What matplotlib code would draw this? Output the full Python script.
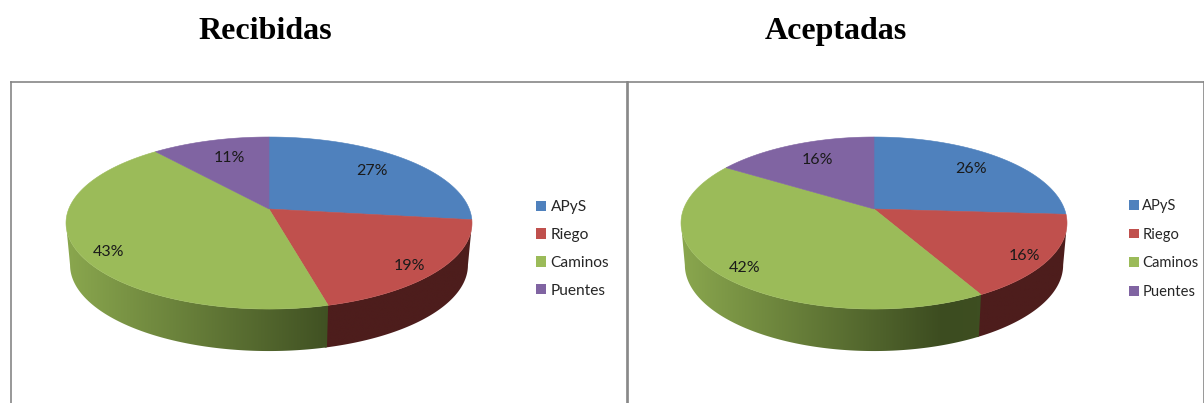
import numpy as np
import matplotlib
matplotlib.use('Agg')
import matplotlib.pyplot as plt
from matplotlib.colors import to_rgb
from matplotlib.patches import Patch, Polygon

W, H = 1204, 403

# data
categories = ['APyS', 'Riego', 'Caminos', 'Puentes']
recibidas = [27, 19, 43, 11]
aceptadas = [26, 16, 42, 16]

colors = ['#4f81bd', '#c0504d', '#9bbb59', '#8064a2']
# rim colours at the left edge and at the darkest point
rim_light = ['#3e6590', '#4d1d1c', '#8aa74e', '#5f4a7c']
rim_dark = ['#264060', '#4d1d1c', '#3c4c20', '#3c2e50']

PERSP = 0.163   # perspective of the tilted disc
FAR_Y = 72      # pivot to back edge, pixels
PIVOT_Y = 209
DEPTH = 42


def project(u, v, cx, rx, shrink=1.0, drop=0):
    # disc coordinates -> picture pixels, back of the disc is squeezed
    b = rx * np.sqrt(1 - PERSP ** 2)
    a = FAR_Y * (1 + PERSP)
    den = 1 + PERSP * v
    x = cx + shrink * b * u / den
    y = PIVOT_Y + drop - a * v / den
    return x, y


def rim_gradient(i):
    # lighter on the left, darkest about two thirds across
    t = np.linspace(0, 1, 400)
    k = np.where(t < 0.68, t / 0.68, 1 - 0.25 * (t - 0.68))
    c0, c1 = np.array(to_rgb(rim_light[i])), np.array(to_rgb(rim_dark[i]))
    return (c0 + (c1 - c0) * k[:, None])[None, :, :]


def draw_pie(ax, values, cx, rx, labels_xy):
    edges = np.cumsum([0] + list(values)) / sum(values) * 2 * np.pi

    # only the front of the rim shows, between the two silhouette angles
    vis0 = np.arccos(-PERSP)
    vis1 = 2 * np.pi - vis0
    for i in range(len(values)):
        start = max(edges[i], vis0)
        stop = min(edges[i + 1] + 0.01, vis1)
        if stop <= start:
            continue
        th = np.linspace(start, stop, 120)
        x0, y0 = project(np.sin(th), np.cos(th), cx, rx)
        x1, y1 = project(np.sin(th), np.cos(th), cx, rx, 0.98, DEPTH)
        pts = np.c_[np.r_[x0, x1[::-1]], np.r_[y0, y1[::-1]]]
        clip = Polygon(pts, closed=True, transform=ax.transData)
        im = ax.imshow(rim_gradient(i), aspect='auto', interpolation='bilinear',
                       extent=(cx - rx, cx + rx, PIVOT_Y + 160, PIVOT_Y - 90))
        im.set_clip_path(clip)

    # top of the cake
    for i in range(len(values)):
        th = np.linspace(edges[i], edges[i + 1], 120)
        x, y = project(np.sin(th), np.cos(th), cx, rx)
        px, py = project(0.0, 0.0, cx, rx)
        ax.fill(np.r_[px, x], np.r_[py, y], color=colors[i], lw=0.4)

    for v, (lx, ly) in zip(values, labels_xy):
        ax.text(lx, ly, f'{v}%', ha='center', va='center', fontsize=11.5,
                family='Lato', color='#1a1a1a')


def draw_legend(ax, x, y, size, gap):
    handles = [Patch(facecolor=c, edgecolor='none') for c in colors]
    leg = ax.legend(handles, categories, loc='center left', frameon=False,
                    bbox_to_anchor=(x, y), bbox_transform=ax.transData,
                    prop={'family': 'Lato', 'size': size}, labelcolor='#262626',
                    handlelength=0.65, handleheight=0.65, handletextpad=gap,
                    labelspacing=28 / (size * 100 / 72) - 0.915, borderpad=0, borderaxespad=0)
    return leg


fig = plt.figure(figsize=(W / 100, H / 100), dpi=100)

ax1 = fig.add_axes([11 / W, 0, 616 / W, (H - 82) / H])
ax2 = fig.add_axes([628 / W, 0, 576 / W, (H - 82) / H])
for ax, xlim in ((ax1, (11, 627)), (ax2, (628, W))):
    ax.set_xlim(xlim)
    ax.set_ylim(H, 82)
    ax.set_autoscale_on(False)
    ax.set_xticks([])
    ax.set_yticks([])
    ax.spines['bottom'].set_visible(False)
    for s in ('left', 'top', 'right'):
        ax.spines[s].set_color('#868686')
        ax.spines[s].set_linewidth(1.2)

draw_pie(ax1, recibidas, 269, 203,
         [(372, 171), (409, 266), (109, 252), (229, 158)])
draw_pie(ax2, aceptadas, 874, 193,
         [(971.5, 169), (1024, 255.5), (745, 268), (817.5, 160)])
for ax, xlim in ((ax1, (11, 627)), (ax2, (628, W))):
    ax.set_xlim(xlim)
    ax.set_ylim(H, 82)
draw_legend(ax1, 536, 249, 11.2, 0.28)
draw_legend(ax2, 1129, 249, 10.6, 0.25)

fig.text(265 / W, 1 - 39 / H, 'Recibidas', ha='center', va='baseline',
         family='Liberation Serif', weight='bold', fontsize=23, color='black')
fig.text(836 / W, 1 - 39 / H, 'Aceptadas', ha='center', va='baseline',
         family='Liberation Serif', weight='bold', fontsize=23, color='black')

plt.savefig('out.png', dpi=100)
plt.close()
